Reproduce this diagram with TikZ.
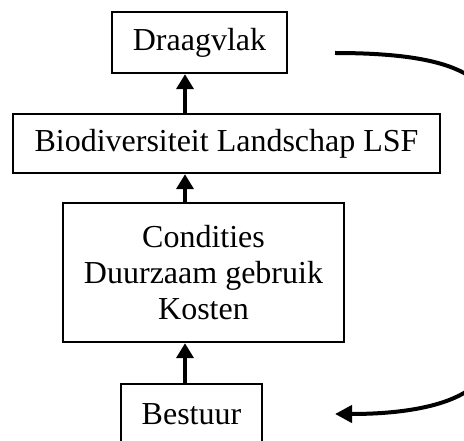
\documentclass[tikz,border=0pt]{standalone}
\usepackage{fontspec}
\setmainfont{Liberation Serif}
\usetikzlibrary{arrows.meta}
\begin{document}
\begin{tikzpicture}[x=1pt,y=-1pt,
  box/.style={draw,line width=2.4pt,inner sep=0pt,align=center,
    font=\fontsize{32}{36}\selectfont},
  uparrow/.style={line width=4.5pt,-{Triangle[length=15pt,width=17pt]}},
  looparrow/.style={line width=4pt,-{Triangle[length=17pt,width=17pt]}}]
\useasboundingbox (0,0) rectangle (464,441);
\clip (0,0) rectangle (464,441);
% boxes
\node[box,minimum width=175pt,minimum height=61pt] (drg) at (199.5,42.5) {Draagvlak};
\node[box,minimum width=427pt,minimum height=59pt] (bio) at (226.5,143.5) {Biodiversiteit Landschap LSF};
\node[box,minimum width=281pt,minimum height=139pt] (cnd) at (203.5,272.5) {Condities\\Duurzaam gebruik\\Kosten};
\node[box,minimum width=141pt,minimum height=61pt] (bst) at (191.5,414.5) {Bestuur};
% vertical connectors
\coordinate (ax) at (185,0);
\draw[uparrow] (bio.north -| ax) -- (drg.south -| ax);
\draw[uparrow] (cnd.north -| ax) -- (bio.south -| ax);
\draw[uparrow] (bst.north -| ax) -- (cnd.south -| ax);
% feedback loop on the right
\coordinate (loopA) at (335,53);
\coordinate (loopB) at (335,414);
\draw[looparrow] (loopA) .. controls (400,53) and (440,60) .. (464,73)
  .. controls (520,105) and (520,360) .. (464,393)
  .. controls (440,407) and (400,414) .. (loopB);
\end{tikzpicture}
\end{document}
